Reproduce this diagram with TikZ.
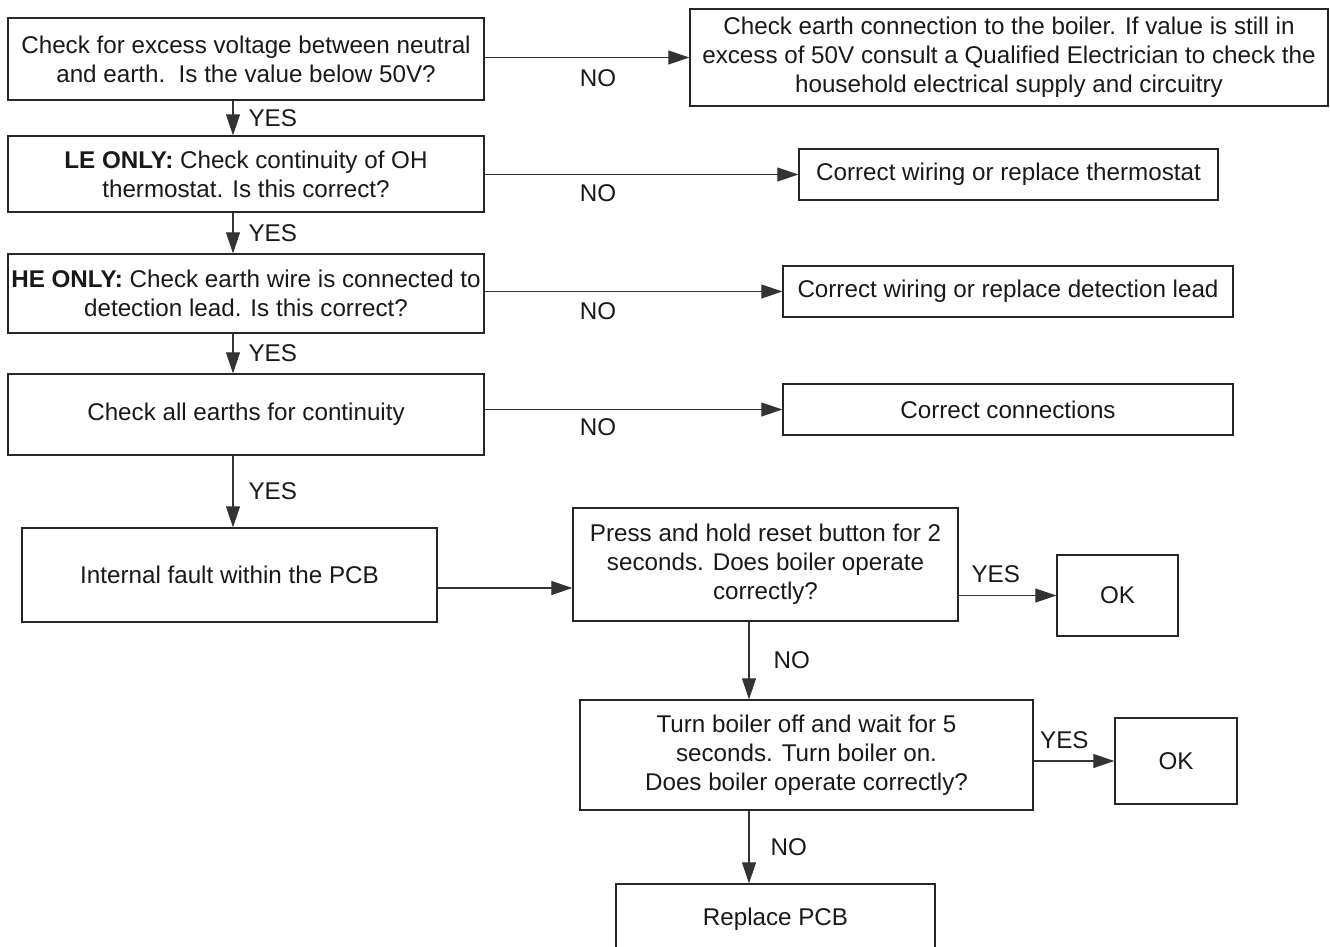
\documentclass[tikz,border=0pt]{standalone}
\usepackage{fontspec}
\setmainfont{Liberation Sans}
\usetikzlibrary{arrows.meta}

\tikzset{
  box/.style={draw=black!85, line width=1.4pt, align=center, inner sep=0pt, text=black!90},
  flow/.style={draw=black!80, line width=1.1pt, -{Triangle[length=21pt,width=14pt]}},
  lbl/.style={inner sep=0pt, text=black!90}
}

\begin{document}
\begin{tikzpicture}[x=1pt,y=-1pt,font=\fontsize{24.2}{29}\selectfont]
\useasboundingbox (0,0) rectangle (1330,946);

% main column
\node[box,minimum width=476pt,minimum height=82pt] (q1) at (246,59)
  {Check for excess voltage between neutral\\and earth.\ \ Is the value below 50V?};
\node[box,minimum width=476pt,minimum height=76pt] (q2) at (246,174)
  {\textbf{LE ONLY:} Check continuity of OH\\thermostat. Is this correct?};
\node[box,minimum width=476pt,minimum height=79pt] (q3) at (246,293.5)
  {\textbf{HE ONLY:} Check earth wire is connected to\\detection lead. Is this correct?};
\node[box,minimum width=476pt,minimum height=81pt] (q4) at (246,414.5)
  {Check all earths for continuity};
\node[box,minimum width=415pt,minimum height=94pt] (q5) at (229.5,575)
  {Internal fault within the PCB};

% NO answers
\node[box,minimum width=638pt,minimum height=97pt] (r1) at (1009,57.5)
  {Check earth connection to the boiler. If value is still in\\excess of 50V consult a Qualified Electrician to check the\\household electrical supply and circuitry};
\node[box,minimum width=419pt,minimum height=51pt] (r2) at (1008.5,174.5)
  {Correct wiring or replace thermostat};
\node[box,minimum width=450pt,minimum height=51pt] (r3) at (1008,291.5)
  {Correct wiring or replace detection lead};
\node[box,minimum width=450pt,minimum height=51pt] (r4) at (1008,409.5)
  {Correct connections};

% reset steps
\node[box,minimum width=385pt,minimum height=113pt] (q6) at (765.5,564.5)
  {Press and hold reset button for 2\\seconds. Does boiler operate\\correctly?};
\node[box,minimum width=121pt,minimum height=81pt] (ok1) at (1117.5,595.5) {OK};
\node[box,minimum width=453pt,minimum height=110pt] (q7) at (806.5,755)
  {Turn boiler off and wait for 5\\seconds. Turn boiler on.\\Does boiler operate correctly?};
\node[box,minimum width=122pt,minimum height=86pt] (ok2) at (1176,761) {OK};
\node[box,minimum width=319pt,minimum height=70pt] (q8) at (775.5,919) {Replace PCB};

\coordinate (yescol) at (233,0);
\coordinate (nocol) at (749,0);

% YES arrows down
\draw[flow] (q1.south -| yescol) -- (q2.north -| yescol)
  node[lbl,midway,anchor=west,xshift=15pt] (y1) {YES};
\draw[flow] (q2.south -| yescol) -- (q3.north -| yescol)
  node[lbl,midway,anchor=west,xshift=15pt] (y2) {YES};
\draw[flow] (q3.south -| yescol) -- (q4.north -| yescol)
  node[lbl,midway,anchor=west,xshift=15pt] (y3) {YES};
\draw[flow] (q4.south -| yescol) -- (q5.north -| yescol)
  node[lbl,midway,anchor=west,xshift=15pt] (y4) {YES};

% NO arrows across
\draw[flow] (q1.east |- r1.west) -- (r1.west);
\draw[flow] (q2.east |- r2.west) -- (r2.west);
\draw[flow] (q3.east |- r3.west) -- (r3.west);
\draw[flow] (q4.east |- r4.west) -- (r4.west);
\node[lbl] (n1) at (598,78) {NO};
\node[lbl] (n2) at (598,193) {NO};
\node[lbl] (n3) at (598,311) {NO};
\node[lbl] (n4) at (598,427) {NO};

\draw[flow] ([yshift=-13pt]q5.east) -- ([yshift=-13pt]q5.east -| q6.west);
\draw[flow] (q6.east |- ok1.west) -- (ok1.west)
  node[lbl,anchor=south,pos=0.38,yshift=12pt] (y5) {YES};
\draw[flow] (q6.south -| nocol) -- (q7.north -| nocol)
  node[lbl,midway,anchor=west,xshift=24pt] (n5) {NO};
\draw[flow] (q7.east |- ok2.west) -- (ok2.west)
  node[lbl,anchor=south,pos=0.38,yshift=12pt] (y6) {YES};
\draw[flow] (q7.south -| nocol) -- (q8.north -| nocol)
  node[lbl,midway,anchor=west,xshift=21pt] (n6) {NO};
\end{tikzpicture}
\end{document}
